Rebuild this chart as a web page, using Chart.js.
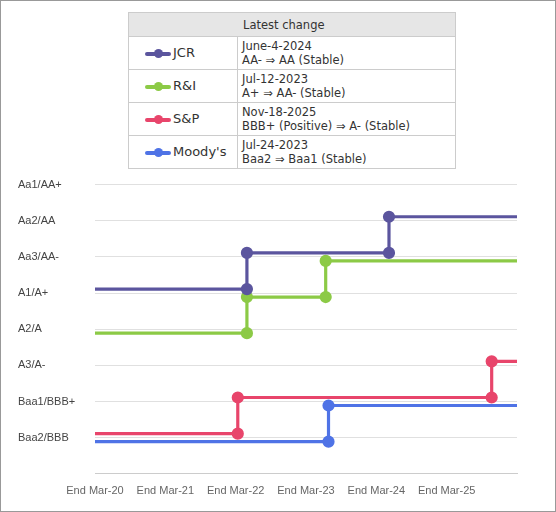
<!DOCTYPE html>
<html><head><meta charset="utf-8">
<script src="https://cdn.jsdelivr.net/npm/chart.js@4"></script>
<style>
body{margin:0;width:556px;height:512px;font-family:"DejaVu Sans",Verdana,sans-serif;}
#frame{position:absolute;left:0;top:0;width:554px;height:510px;border:1px solid #999;}
#leg{position:absolute;left:128px;top:12px;width:328px;border-collapse:collapse;font-size:11.5px;color:#333;}
#leg td,#leg th{border:1px solid #ccc;padding:0 4px;}
#leg th{background:#e6e6e6;font-weight:normal;height:23px;text-align:left;padding-left:114px;}
#leg td{height:32px;line-height:14px;}
#leg td.n{width:100px;font-size:13px;white-space:nowrap;}
.sw{display:inline-block;width:26px;height:4px;position:relative;vertical-align:middle;margin:0 2px 0 12px;border-radius:2px;}
.sw::after{content:"";position:absolute;left:9px;top:-2.5px;width:9px;height:9px;border-radius:50%;background:inherit;}
#wrap{position:absolute;left:18px;top:160px;width:504px;height:341px;}
</style></head><body>
<div id="frame"></div>
<table id="leg"><tr><th colspan="2">Latest change</th></tr>
<tbody id="lb"></tbody></table>
<div id="wrap"><canvas id="c"></canvas></div>
<script>
const ratingLabels = ['Baa2/BBB','Baa1/BBB+','A3/A-','A2/A','A1/A+','Aa3/AA-','Aa2/AA','Aa1/AA+'];
const xTickLabels = ['End Mar-20','End Mar-21','End Mar-22','End Mar-23','End Mar-24','End Mar-25'];
const agencies = ['JCR','R&I','S&P',"Moody's"];
const colors = ['#5b559e','#8cca46','#e8456b','#4f73e6'];
const offsets = [-0.11, 0.11, -0.11, 0.11];
// change times (years since end Mar-20) and ratings (index into ratingLabels)
const changeX = [[2.16, 4.18],[2.16, 3.28],[2.03, 5.64],[3.32]];
const levels = [[4, 5, 6],[3, 4, 5],[0, 1, 2],[0, 1]];
const latestDate = ['June-4-2024','Jul-12-2023','Nov-18-2025','Jul-24-2023'];
const latestChange = ['AA- \u21d2 AA (Stable)','A+ \u21d2 AA- (Stable)','BBB+ (Positive) \u21d2 A- (Stable)','Baa2 \u21d2 Baa1 (Stable)'];

const lb = document.getElementById('lb');
agencies.forEach((a,i)=>{
  const tr = document.createElement('tr');
  tr.innerHTML = '<td class="n"><span class="sw" style="background:'+colors[i]+'"></span></td><td>'+latestDate[i]+'<br>'+latestChange[i]+'</td>';
  tr.firstChild.appendChild(document.createTextNode(a));
  lb.appendChild(tr);
});

const datasets = agencies.map((a,i)=>{
  const pts = [], rad = [];
  const lv = levels[i], cx = changeX[i], o = offsets[i];
  pts.push({x:0, y:lv[0]-o}); rad.push(0);
  cx.forEach((x,k)=>{
    pts.push({x:x, y:lv[k]-o}); rad.push(4.5);
    pts.push({x:x, y:lv[k+1]-o}); rad.push(4.5);
  });
  pts.push({x:6, y:lv[lv.length-1]-o}); rad.push(0);
  return {label:a, data:pts, borderColor:colors[i], backgroundColor:colors[i], borderWidth:3.2,
          pointRadius:rad, pointHoverRadius:rad, tension:0};
});

new Chart(document.getElementById('c'), {
  type:'line',
  data:{datasets},
  options:{responsive:true, maintainAspectRatio:false, animation:false,
    layout:{padding:{top:5,right:5}},
    plugins:{legend:{display:false}, tooltip:{enabled:false}},
    scales:{
      x:{type:'linear', min:0, max:6,
        grid:{display:false}, border:{color:'#ccc'},
        ticks:{stepSize:1, font:{size:11}, color:'#666', callback:v=>xTickLabels[v]||''}},
      y:{min:-1, max:7, afterFit:s=>{s.width=77;},
        grid:{color:'#e0e0e0', drawTicks:false}, border:{display:false},
        ticks:{stepSize:1, padding:18, font:{size:11}, color:'#444', crossAlign:'far',
          callback:v=>ratingLabels[v]||''}}
    }
  }
});
</script></body></html>
